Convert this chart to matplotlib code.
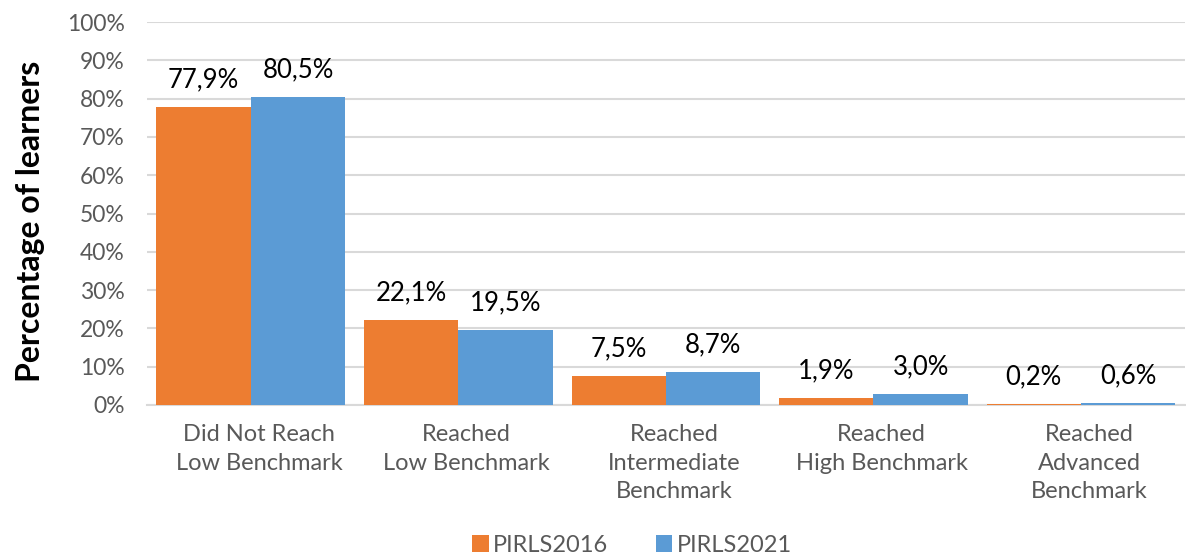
import matplotlib.pyplot as plt
import numpy as np

categories = ['Did Not Reach\nLow Benchmark', 'Reached\nLow Benchmark',
              'Reached\nIntermediate\nBenchmark', 'Reached\nHigh Benchmark',
              'Reached\nAdvanced\nBenchmark']
pirls2016 = [77.9, 22.1, 7.5, 1.9, 0.2]
pirls2021 = [80.5, 19.5, 8.7, 3.0, 0.6]
series_names = ['PIRLS2016', 'PIRLS2021']
yticks = [0, 10, 20, 30, 40, 50, 60, 70, 80, 90, 100]

plt.rcParams['font.family'] = ['Lato', 'DejaVu Sans']

fig = plt.figure(figsize=(11.86, 5.59), dpi=100)
ax = fig.add_axes([0.124, 0.2755, 0.875, 0.685])

x = np.arange(len(categories))
w = 0.455
b1 = ax.bar(x - w/2, pirls2016, w, color='#ED7D31', label=series_names[0], zorder=3)
b2 = ax.bar(x + w/2, pirls2021, w, color='#5B9BD5', label=series_names[1], zorder=3)

for bars, vals in [(b1, pirls2016), (b2, pirls2021)]:
    for r, v in zip(bars, vals):
        ax.annotate(f'{v:.1f}%'.replace('.', ','),
                    (r.get_x() + r.get_width()/2, v),
                    xytext=(0, 19.5), textcoords='offset points',
                    ha='center', va='center', fontsize=18.5, color='black')

ax.set_xlim(-0.5, len(categories) - 0.5)
ax.set_ylim(0, 100)
ax.set_yticks(yticks)
ax.set_yticklabels([f'{t}%' for t in yticks], fontsize=16.5, color='#595959')
# excel draws the category labels a little right of the group centre
ax.set_xticks(x + 0.04)
ax.set_xticklabels(categories, fontsize=17, color='#595959', linespacing=1.42, va='top')
ax.tick_params(axis='both', length=0)
ax.tick_params(axis='x', pad=14)
ax.tick_params(axis='y', pad=16)
ax.grid(axis='y', color='#D9D9D9', linewidth=1.5, zorder=0)
for s in ['top', 'right', 'left']:
    ax.spines[s].set_visible(False)
ax.spines['bottom'].set_color('#D9D9D9')
ax.spines['bottom'].set_linewidth(1.5)

ax.set_ylabel('Percentage of learners', fontsize=23, fontweight='bold')
ax.yaxis.set_label_coords(-0.098, 0.48)

fig.legend(handles=[b1, b2], labels=series_names, loc='center', bbox_to_anchor=(0.533, 0.025),
           ncol=2, frameon=False, fontsize=17, labelcolor='#595959',
           handlelength=0.7, handleheight=0.7, handletextpad=0.2, columnspacing=2.0)

fig.savefig('out.png', dpi=100)
